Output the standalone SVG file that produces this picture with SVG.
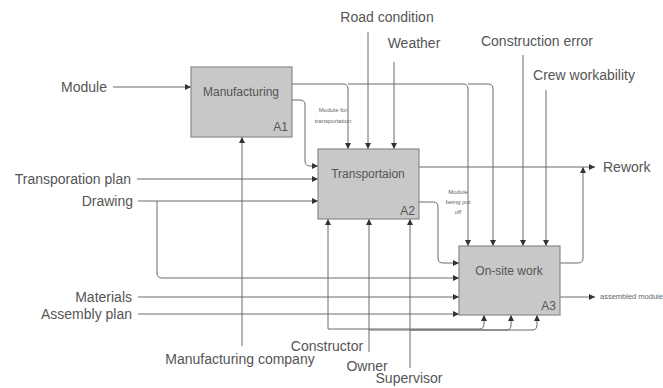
<svg xmlns="http://www.w3.org/2000/svg" width="663" height="388" viewBox="0 0 663 388">
<style>
.bg{fill:#ffffff}
.box{fill:#c8c8c8;stroke:#8a8a8a;stroke-width:1.2}
.lbl{font-family:"Liberation Sans",Arial,sans-serif;font-size:14px;fill:#555}
.btxt{font-family:"Liberation Sans",Arial,sans-serif;font-size:12px;fill:#555}
.tiny{font-family:"Liberation Sans",Arial,sans-serif;font-size:6px;fill:#666}
.ln{fill:none;stroke:#6a6a6a;stroke-width:1}
.arr{marker-end:url(#ah)}
</style>
<defs>
<marker id="ah" markerUnits="userSpaceOnUse" markerWidth="6" markerHeight="6" refX="6" refY="3" orient="auto">
<path d="M0,0 L6,3 L0,6 z" fill="#333"/>
</marker>
</defs>
<rect class="bg" x="0" y="0" width="663" height="388"/>
<g id="connectors">
<path class="ln arr" d="M113,87 H191"/>
<path class="ln arr" d="M292,84 H343 Q348,84 348,89 V149"/>
<path class="ln arr" d="M348,84 H463 Q468,84 468,89 V246"/>
<path class="ln arr" d="M468,84 H488 Q493,84 493,89 V246"/>
<path class="ln arr" d="M292,100 H300 Q305,100 305,105 V161 Q305,166 310,166 H318"/>
<path class="ln arr" d="M368,32 V149"/>
<path class="ln arr" d="M394,62 V149"/>
<path class="ln arr" d="M523,55 V246"/>
<path class="ln arr" d="M546,90 V246"/>
<path class="ln arr" d="M137,179 H318"/>
<path class="ln arr" d="M138,201 H318"/>
<path class="ln arr" d="M157,201 V273 Q157,278 162,278 H459"/>
<path class="ln arr" d="M138,297 H459"/>
<path class="ln arr" d="M138,314 H459"/>
<path class="ln arr" d="M242,346 V137"/>
<path class="ln arr" d="M419,167 H595"/>
<path class="ln arr" d="M560,263 H578 Q583,263 583,258 V167"/>
<path class="ln arr" d="M419,202 H433 Q438,202 438,207 V258 Q438,263 443,263 H459"/>
<path class="ln arr" d="M560,297 H595"/>
<path class="ln arr" d="M328,329 V219"/>
<path class="ln arr" d="M369,352 V219"/>
<path class="ln arr" d="M410,368 V219"/>
<path class="ln arr" d="M328,329 H479 Q484,329 484,324 V315"/>
<path class="ln arr" d="M369,330 H506 Q511,330 511,325 V315"/>
<path class="ln arr" d="M410,330 H532 Q537,330 537,325 V315"/>
</g>
<g id="manufacturing">
<rect class="box" x="191" y="67" width="101" height="70"/>
<text class="btxt" x="241" y="96" text-anchor="middle">Manufacturing</text>
<text class="btxt" x="288" y="131" text-anchor="end">A1</text>
</g>
<g id="transportaion">
<rect class="box" x="318" y="149" width="101" height="70"/>
<text class="btxt" x="368" y="178" text-anchor="middle">Transportaion</text>
<text class="btxt" x="415" y="215" text-anchor="end">A2</text>
</g>
<g id="onsite">
<rect class="box" x="459" y="246" width="101" height="69"/>
<text class="btxt" x="509" y="275" text-anchor="middle">On-site work</text>
<text class="btxt" x="556" y="310" text-anchor="end">A3</text>
</g>
<g id="labels">
<text class="lbl" x="107" y="92" text-anchor="end">Module</text>
<text class="lbl" x="131" y="184" text-anchor="end">Transporation plan</text>
<text class="lbl" x="133" y="206" text-anchor="end">Drawing</text>
<text class="lbl" x="132" y="302" text-anchor="end">Materials</text>
<text class="lbl" x="132" y="319" text-anchor="end">Assembly plan</text>
<text class="lbl" x="387" y="22" text-anchor="middle">Road condition</text>
<text class="lbl" x="414" y="48" text-anchor="middle">Weather</text>
<text class="lbl" x="537" y="46" text-anchor="middle">Construction error</text>
<text class="lbl" x="584" y="80" text-anchor="middle">Crew workability</text>
<text class="lbl" x="603" y="172">Rework</text>
<text class="lbl" x="240" y="364" text-anchor="middle">Manufacturing company</text>
<text class="lbl" x="327" y="351" text-anchor="middle">Constructor</text>
<text class="lbl" x="367" y="371" text-anchor="middle">Owner</text>
<text class="lbl" x="409" y="383" text-anchor="middle">Supervisor</text>
<text class="tiny" x="333" y="112" text-anchor="middle">Module for</text>
<text class="tiny" x="333" y="123" text-anchor="middle">transportation</text>
<text class="tiny" x="458" y="194" text-anchor="middle">Module</text>
<text class="tiny" x="458" y="204" text-anchor="middle">being put</text>
<text class="tiny" x="458" y="214" text-anchor="middle">off</text>
<text class="tiny" x="600" y="299" style="font-size:7.5px">assembled module</text>
</g>
</svg>
